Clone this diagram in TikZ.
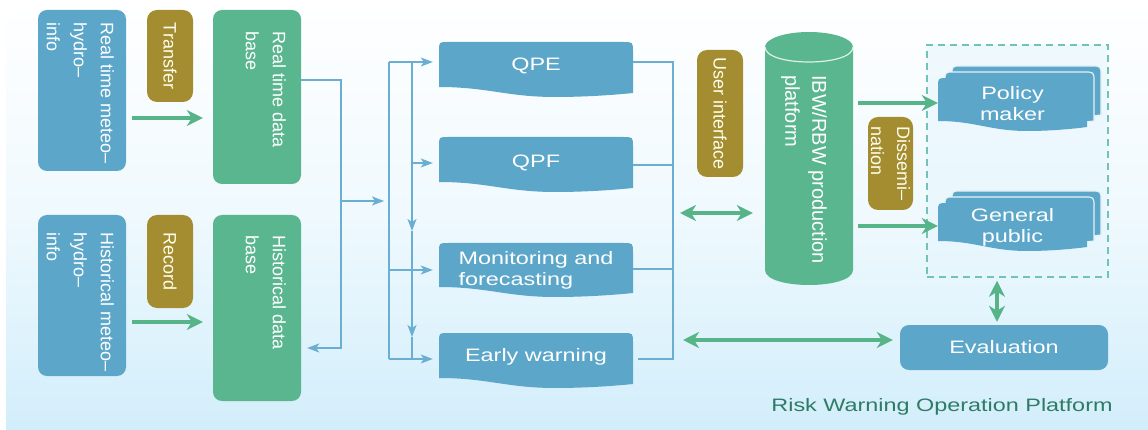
\documentclass[tikz,border=0pt]{standalone}
\usepackage{fontspec}
\setmainfont{Liberation Sans}
\newfontfamily\widefont[FakeStretch=1.3]{Liberation Sans}
\usetikzlibrary{arrows.meta,calc}
\definecolor{bxblue}{HTML}{5CA7C9}
\definecolor{bxgreen}{HTML}{5AB68F}
\definecolor{tagolive}{HTML}{A38D30}
\definecolor{lnblue}{HTML}{6AAFD2}
\definecolor{arrgreen}{HTML}{56B488}
\definecolor{bgb}{HTML}{D2EEFB}
\definecolor{titlec}{HTML}{2E7B66}
\definecolor{dashc}{HTML}{72C2B6}
\newcommand\docshape[5][]{%
  \path[#1] (#2,{#5-10}) -- (#2,{#3+9}) .. controls (#2,#3) .. ({#2+9},#3)
    -- ({#4-10},#3) .. controls (#4,#3) .. (#4,{#3+10}) -- (#4,{#5-4})
    .. controls ({#4-0.1*(#4-#2)},{#5-2}) and ({#2+0.75*(#4-#2)},#5) .. ({#2+0.6*(#4-#2)},#5)
    .. controls ({#2+0.35*(#4-#2)},#5) and ({#2+0.25*(#4-#2)},{#5-10}) .. (#2,{#5-10}) -- cycle;}
\tikzset{
  bbox/.style={fill=bxblue, draw=none, rounded corners=9pt, inner sep=0pt},
  gbox/.style={fill=bxgreen, draw=none, rounded corners=9pt, inner sep=0pt},
  tagbox/.style={fill=tagolive, draw=none, rounded corners=10pt, inner sep=0pt, rotate=-90,
     text=white!92!yellow, font=\fontsize{18pt}{26pt}\selectfont, align=left},
  rottext/.style={rotate=-90, anchor=north west, inner sep=0pt, text=white,
     font=\fontsize{18pt}{27pt}\selectfont, align=left},
  docfill/.style={fill=bxblue},
  docback/.style={fill=bxblue, draw=white!85!bxblue, line width=1.2pt},
  doctext/.style={inner sep=0pt, text=white, font=\widefont\fontsize{18pt}{21pt}\selectfont, align=left},
  conn/.style={draw=lnblue, line width=1.3pt},
  barr/.style={-{Stealth[length=12pt,width=9pt,inset=3pt]}},
  garrow/.style={draw=arrgreen, line width=3.6pt, -{Stealth[length=16pt,width=16pt,inset=5pt]}},
  gdarrow/.style={draw=arrgreen, line width=3.6pt, {Stealth[length=16pt,width=16pt,inset=5pt]}-{Stealth[length=16pt,width=16pt,inset=5pt]}},
}
\begin{document}
\begin{tikzpicture}[x=1pt,y=-1pt]
\useasboundingbox (0,0) rectangle (1148,430);
\fill[white] (0,0) rectangle (1148,430);
\shade[top color=white, bottom color=bgb, middle color=bgb!35] (6,0) rectangle (1148,430);

% left column
\node[bbox, minimum width=88pt, minimum height=161pt] (rtm) at (82,90.5) {};
\node[rottext] at (114,22) {Real time meteo–\\hydro–\\info};
\node[bbox, minimum width=88pt, minimum height=161pt] (hm) at (82,295.5) {};
\node[rottext] at (114,232) {Historical meteo–\\hydro–\\info};
\node[tagbox, minimum width=92pt, minimum height=46pt] (tr) at (170,56) {Transfer};
\node[tagbox, minimum width=93pt, minimum height=46pt] (rec) at (170,261.5) {Record};
\node[gbox, minimum width=88pt, minimum height=174pt] (rtdb) at (257,97) {};
\node[rottext] at (286,31) {Real time data\\base};
\node[gbox, minimum width=88pt, minimum height=186pt] (hdb) at (257,308) {};
\node[rottext] at (286,235) {Historical data\\base};

\draw[garrow, shorten <=6pt, shorten >=10pt] (rtm.east |- 0,118) -- (rtdb.west |- 0,118);
\draw[garrow, shorten <=6pt, shorten >=10pt] (hm.east |- 0,322) -- (hdb.west |- 0,322);

% middle documents
\docshape[docfill]{439}{42}{633}{97}
\docshape[docfill]{439}{137}{633}{192}
\docshape[docfill]{439}{243}{633}{297}
\docshape[docfill]{439}{333}{633}{388}
\node[doctext, minimum width=194pt, align=center] (qpe) at (536,66) {QPE};
\node[doctext, minimum width=194pt] (mon) at (536,270) {Monitoring and\\forecasting};
\node[doctext, minimum width=194pt, align=center] (qpf) at (536,163) {QPF};
\node[doctext, minimum width=194pt, align=center] (ew) at (536,357) {Early warning};

% blue connectors
\coordinate (b1t) at (341,80);
\coordinate (b1m) at (341,201);
\coordinate (b1b) at (341,348);
\coordinate (obt) at (389,62);
\coordinate (obb) at (389,359);
\coordinate (ibt) at (412,62);
\coordinate (ia1) at (412,231);
\coordinate (ia2) at (412,337);
\coordinate (ibb) at (412,359);
\coordinate (rbt) at (673,62);
\coordinate (rbb) at (673,359);
\draw[conn, barr, shorten >=6pt] (rtdb.east |- b1t) -- (b1t) -- (b1b) -- (hdb.east |- b1b);
\draw[conn, barr, shorten >=5pt] (b1m) -- (obt |- b1m);
\draw[conn] (obt) -- (obb);
\draw[conn, barr, shorten >=6pt] (obt) -- (qpe.west |- obt);
\draw[conn, barr, shorten >=6pt] (ibt |- qpf.west) -- (qpf.west);
\draw[conn, barr, shorten >=6pt] (obt |- mon.west) -- (mon.west);
\draw[conn, barr, shorten >=6pt] (obb) -- (ew.west |- obb);
\draw[conn, barr] (ibt) -- (ia1);
\draw[conn, barr] (ia1) -- (ia2);
\draw[conn] (ia2) -- (ibb);
\draw[conn] (qpe.east |- rbt) -- (rbt) -- (rbb) -- ([xshift=5pt]ew.east |- rbb);
\draw[conn] (qpf.east |- 0,165) -- (rbt |- 0,165);
\draw[conn] (mon.east |- 0,269) -- (rbt |- 0,269);

% user interface & cylinder
\node[tagbox, minimum width=127pt, minimum height=46pt] (ui) at (720,113.5) {User interface};
\node[minimum width=88pt, minimum height=253pt, inner sep=0pt] (cyl) at (809,158.5) {};
\fill[bxgreen] (765,47) -- (765,270) .. controls (765,290) and (853,290) .. (853,270) -- (853,47) -- cycle;
\fill[bxgreen] (809,47) ellipse [x radius=44, y radius=15];
\draw[white!80!bxgreen, line width=1.2pt] (765,47) .. controls (765,67) and (853,67) .. (853,47);
\node[rottext, font=\fontsize{20pt}{27pt}\selectfont] at (827,75) {IBW/RBW production\\platform};
\coordinate (uiL) at (680,213);
\draw[gdarrow, shorten >=12pt] (uiL) -- (cyl.west |- uiL);

% target group
\node[draw=dashc, dash pattern=on 7pt off 5pt, line width=1.5pt, fill=bgb!55, fill opacity=0.6,
      minimum width=181pt, minimum height=232pt, inner sep=0pt] (grp) at (1017.5,161) {};
\docshape[docback]{952}{66}{1101}{119}
\docshape[docback]{945}{72}{1094}{125}
\docshape[docfill]{938}{78}{1087}{131}
\node[doctext, minimum width=149pt, align=center] (pm) at (1012.5,104) {Policy\\maker};
\docshape[docback]{952}{191}{1101}{239}
\docshape[docback]{945}{197}{1094}{245}
\docshape[docfill]{938}{203}{1087}{251}
\node[doctext, minimum width=149pt, align=center] (gp) at (1012.5,227) {General\\public};
\node[tagbox, minimum width=93pt, minimum height=45pt] (dis) at (890.5,163.5) {Dissemi–\\nation};
\draw[garrow, shorten <=5pt] (cyl.east |- 0,103) -- (pm.west |- 0,103);
\draw[garrow, shorten <=5pt] (cyl.east |- 0,226) -- (gp.west |- 0,226);

% evaluation
\node[bbox, minimum width=208pt, minimum height=45pt, text=white,
      font=\widefont\fontsize{18pt}{21pt}\selectfont] (ev) at (1004,347.5) {Evaluation};
\coordinate (evL) at (683,340);
\draw[gdarrow, shorten >=7pt] (evL) -- (ev.west |- evL);
\draw[gdarrow, shorten <=3pt, shorten >=3pt] ([xshift=-7pt]ev.north |- grp.south) -- ([xshift=-7pt]ev.north);

\node[text=titlec, font=\widefont\fontsize{18pt}{21pt}\selectfont, inner sep=0pt] (ttl) at (942,407) {Risk Warning Operation Platform};
\end{tikzpicture}
\end{document}
